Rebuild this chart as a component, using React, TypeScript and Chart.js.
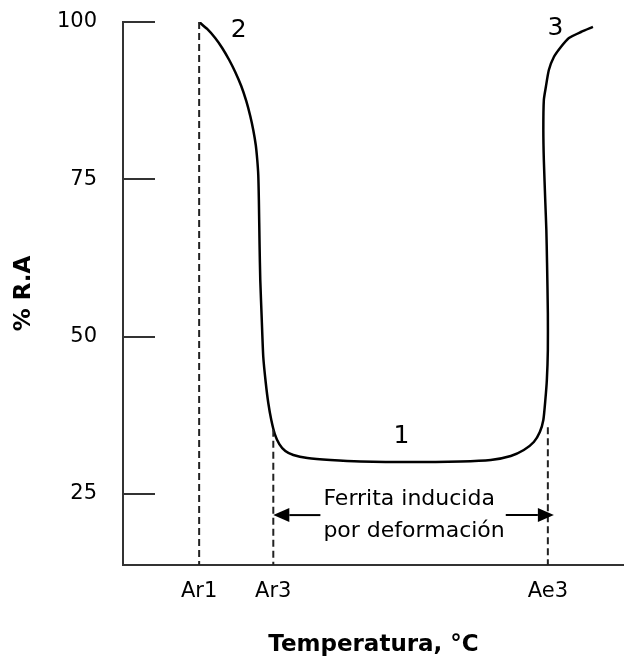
import React, { useEffect, useRef } from "react";
import { Chart, registerables } from "chart.js";

Chart.register(...registerables);

// % reduction of area vs. temperature (arbitrary temperature units)
const curveTemp = [
  15.2, 16.8, 18.4, 19.8, 21.2, 22.4, 23.6, 24.6, 25.4, 26.0, 26.5, 26.8, 27.0,
  27.12, 27.26, 27.4, 27.7, 28.0, 28.5, 29.0, 29.6, 30.3, 31.2, 32.4, 34.0, 36.8,
  41.4, 47.4, 57.4, 67.4, 73.4, 77.4, 80.0, 82.0, 83.2, 83.9, 84.3, 84.6, 84.8,
  84.8, 84.64, 84.5, 84.3, 84.0, 83.9, 84.0, 84.4, 85.0, 86.0, 87.4, 89.0, 91.4,
  93.8,
];
const curveRA = [
  100, 98.89, 97.46, 95.87, 93.96, 92.06, 89.83, 87.45, 85.06, 82.84, 80.46, 78.07,
  75.69, 71.72, 64.57, 59.01, 52.65, 46.77, 42.64, 39.46, 36.76, 34.53, 32.94,
  31.83, 31.2, 30.72, 30.4, 30.16, 30.08, 30.16, 30.4, 31.04, 31.99, 33.26, 34.85,
  36.76, 39.94, 43.11, 47.88, 53.76, 61.71, 66.95, 71.24, 78.07, 82.84, 87.61,
  89.67, 92.37, 94.44, 96.03, 97.46, 98.41, 99.21,
];

// Critical temperatures marked on the x axis
const refNames = ["Ar1", "Ar3", "Ae3"];
const refTemps = [15.2, 30.0, 84.8];
const refTopRA = [100, 35.2, 35.6];

// Y axis
const raTicks = [25, 50, 75, 100];
const raMin = 13.72;
const raMax = 100;
const tempMin = 0;
const tempMax = 100;

// Region numbers along the curve
const regionLabels = ["2", "3", "1"];
const regionTemp = [23.1, 86.3, 55.6];
const regionRA = [97.6, 97.9, 33.1];

// Strain-induced ferrite band
const bandLines = ["Ferrita inducida", "por deformación"];
const bandTextTemp = 40;
const bandTextRA = [23.25, 18.17];
const bandArrowRA = 21.65;
const bandArrowLeft = [39.4, 30.0];
const bandArrowRight = [76.4, 86.0];

const FONT = "'DejaVu Sans', sans-serif";
const INK = "#000";
const AXIS = "#333";

const overlay = {
  id: "overlay",
  afterDatasetsDraw(chart: any) {
    const { ctx, chartArea } = chart;
    const x = chart.scales.x;
    const y = chart.scales.y;
    ctx.save();

    // inward tick marks on the y axis
    ctx.strokeStyle = AXIS;
    ctx.lineWidth = 2;
    raTicks.forEach((v) => {
      const py = Math.round(y.getPixelForValue(v));
      ctx.beginPath();
      ctx.moveTo(chartArea.left, py);
      ctx.lineTo(chartArea.left + 32, py);
      ctx.stroke();
    });

    // region numbers
    ctx.fillStyle = INK;
    ctx.font = `25px ${FONT}`;
    ctx.textAlign = "center";
    ctx.textBaseline = "alphabetic";
    regionLabels.forEach((t, i) => {
      ctx.fillText(t, x.getPixelForValue(regionTemp[i]), y.getPixelForValue(regionRA[i]));
    });

    // band text
    ctx.font = `22px ${FONT}`;
    ctx.textAlign = "left";
    bandLines.forEach((t, i) => {
      ctx.fillText(t, x.getPixelForValue(bandTextTemp), y.getPixelForValue(bandTextRA[i]));
    });

    // arrows
    const drawArrow = (from: number, to: number) => {
      const py = y.getPixelForValue(bandArrowRA);
      const x0 = x.getPixelForValue(from);
      const x1 = x.getPixelForValue(to);
      const dir = Math.sign(x1 - x0);
      const head = 16;
      ctx.strokeStyle = INK;
      ctx.lineWidth = 2;
      ctx.beginPath();
      ctx.moveTo(x0, py);
      ctx.lineTo(x1 - dir * head, py);
      ctx.stroke();
      ctx.beginPath();
      ctx.moveTo(x1, py);
      ctx.lineTo(x1 - dir * head, py - 7);
      ctx.lineTo(x1 - dir * head, py + 7);
      ctx.closePath();
      ctx.fill();
    };
    drawArrow(bandArrowLeft[0], bandArrowLeft[1]);
    drawArrow(bandArrowRight[0], bandArrowRight[1]);

    ctx.restore();
  },
};

export default function App() {
  const canvasRef = useRef<HTMLCanvasElement | null>(null);

  useEffect(() => {
    document.body.style.margin = "0";
    const canvas = canvasRef.current;
    if (!canvas) return;

    const curve = curveTemp.map((t, i) => ({ x: t, y: curveRA[i] }));
    const refSets = refTemps.map((t, i) => ({
      label: refNames[i],
      data: [
        { x: t, y: refTopRA[i] },
        { x: t, y: raMin },
      ],
      borderColor: "#222",
      borderWidth: 2,
      borderDash: [7, 4],
      pointRadius: 0,
      tension: 0,
    }));

    const chart = new Chart(canvas, {
      type: "line",
      data: {
        datasets: [
          ...refSets,
          {
            label: "% R.A",
            data: curve,
            borderColor: INK,
            borderWidth: 2.5,
            pointRadius: 0,
            tension: 0.2,
          },
        ],
      },
      options: {
        responsive: false,
        animation: false,
        devicePixelRatio: 1,
        layout: { padding: { top: 22, right: 0, bottom: 0, left: 0 } },
        plugins: {
          legend: { display: false },
          tooltip: { enabled: false },
        },
        scales: {
          x: {
            type: "linear",
            min: tempMin,
            max: tempMax,
            grid: { drawOnChartArea: false, drawTicks: false },
            border: { display: true, color: AXIS, width: 2 },
            afterBuildTicks: (scale: any) => {
              scale.ticks = refTemps.map((v) => ({ value: v }));
            },
            afterFit: (scale: any) => {
              scale.height = 94;
              scale.paddingLeft = 0;
              scale.paddingRight = 0;
            },
            ticks: {
              autoSkip: false,
              maxRotation: 0,
              padding: 14,
              color: INK,
              font: { family: FONT, size: 21, lineHeight: 1.2 },
              callback: (value: any) => {
                const i = refTemps.findIndex((t) => Math.abs(t - Number(value)) < 0.01);
                return i >= 0 ? refNames[i] : "";
              },
            },
            title: {
              display: true,
              text: "Temperatura, °C",
              color: INK,
              font: { family: FONT, size: 23, weight: "bold", lineHeight: 1.2 },
              padding: { top: 0, bottom: 0 },
            },
          },
          y: {
            type: "linear",
            min: raMin,
            max: raMax,
            grid: { drawOnChartArea: false, drawTicks: false },
            border: { display: true, color: AXIS, width: 2 },
            afterBuildTicks: (scale: any) => {
              scale.ticks = raTicks.map((v) => ({ value: v }));
            },
            afterFit: (scale: any) => {
              scale.width = 123;
              scale.paddingTop = 0;
              scale.paddingBottom = 0;
            },
            ticks: {
              autoSkip: false,
              padding: 26,
              color: INK,
              font: { family: FONT, size: 21, lineHeight: 1.2 },
              callback: (value: any) => String(value),
            },
            title: {
              display: true,
              text: "% R.A",
              color: INK,
              font: { family: FONT, size: 23, weight: "bold", lineHeight: 1.2 },
              padding: { top: 10, bottom: 0 },
            },
          },
        },
      },
      plugins: [overlay],
    });

    return () => chart.destroy();
  }, []);

  return <canvas ref={canvasRef} width={624} height={659} style={{ display: "block" }} />;
}
